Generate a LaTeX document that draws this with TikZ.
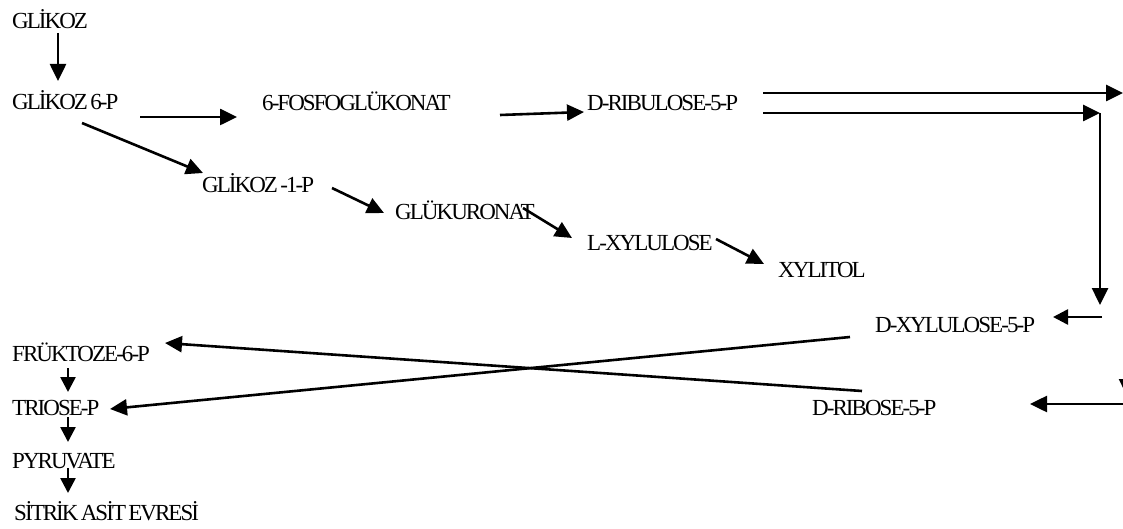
\documentclass[tikz,border=0pt]{standalone}
\usepackage{fontspec}
\setmainfont[LetterSpace=-8.5,WordSpace=0.6]{Liberation Serif}
\usetikzlibrary{arrows.meta}
\begin{document}
\begin{tikzpicture}[x=1pt,y=-1pt,
  lbl/.style={anchor=base west,inner sep=0pt,font=\fontsize{23}{25}\selectfont},
  arr/.style={line width=2.6pt,-{Triangle[length=17pt,width=16pt]}},
  sarr/.style={line width=2.6pt,-{Triangle[length=15pt,width=15pt]}}]
\useasboundingbox (0,0) rectangle (1123,529);
\clip (0,0) rectangle (1123,529);
% labels
\node[lbl] (glk)  at (12,29)  {GLİKOZ};
\node[lbl] (g6p)  at (12,110) {GLİKOZ 6-P};
\node[lbl] (fg)   at (262,111) {6-FOSFOGLÜKONAT};
\node[lbl] (drl)  at (587,111) {D-RIBULOSE-5-P};
\node[lbl] (g1p)  at (202,193) {GLİKOZ -1-P};
\node[lbl] (gku)  at (395,219) {GLÜKURONAT};
\node[lbl] (lx)   at (587,251) {L-XYLULOSE};
\node[lbl] (xyl)  at (778,277) {XYLITOL};
\node[lbl] (dx)   at (875,332) {D-XYLULOSE-5-P};
\node[lbl] (drb)  at (812,415) {D-RIBOSE-5-P};
\node[lbl] (f6p)  at (12,361) {FRÜKTOZE-6-P};
\node[lbl] (tri)  at (12,415) {TRIOSE-P};
\node[lbl] (pyr)  at (12,468) {PYRUVATE};
\node[lbl] (sit)  at (14,520) {SİTRİK ASİT EVRESİ};
% connector end points
\coordinate (a1s) at (58,33);   \coordinate (a1e) at (58,81);
\coordinate (a2s) at (140,117); \coordinate (a2e) at (237,117);
\coordinate (a3s) at (500,115); \coordinate (a3e) at (584,112);
\coordinate (a4s) at (763,93);  \coordinate (a4e) at (1123,93);
\coordinate (a5s) at (763,113); \coordinate (a5c) at (1100,113); \coordinate (a5e) at (1100,305);
\coordinate (a6s) at (1102,317); \coordinate (a6e) at (1053,317);
\coordinate (a7s) at (1127,100); \coordinate (a7e) at (1127,396);
\coordinate (a8s) at (1127,404); \coordinate (a8e) at (1030,404);
\coordinate (b1s) at (82,123);  \coordinate (b1e) at (203,173);
\coordinate (b2s) at (332,188); \coordinate (b2e) at (384,213);
\coordinate (b3s) at (523,208); \coordinate (b3e) at (572,238);
\coordinate (b4s) at (716,239); \coordinate (b4e) at (764,264);
\coordinate (x1s) at (862,391); \coordinate (x1e) at (165,343);
\coordinate (x2s) at (850,337); \coordinate (x2e) at (110,409);
\coordinate (d1s) at (68,368);  \coordinate (d1e) at (68,392);
\coordinate (d2s) at (68,417);  \coordinate (d2e) at (68,442);
\coordinate (d3s) at (68,468);  \coordinate (d3e) at (68,493);
% connectors
\draw[arr] (a1s) -- (a1e);
\draw[arr] (a2s) -- (a2e);
\draw[arr] (a3s) -- (a3e);
\draw[arr] (a4s) -- (a4e);
\draw[arr] (a5s) -- (a5c);
\draw[arr] (a5c) -- (a5e);
\draw[sarr] (a6s) -- (a6e);
\draw[arr] (a7s) -- (a7e);
\draw[arr] (a8s) -- (a8e);
\draw[arr] (b1s) -- (b1e);
\draw[arr] (b2s) -- (b2e);
\draw[arr] (b3s) -- (b3e);
\draw[arr] (b4s) -- (b4e);
\draw[arr] (x1s) -- (x1e);
\draw[arr] (x2s) -- (x2e);
\draw[sarr] (d1s) -- (d1e);
\draw[sarr] (d2s) -- (d2e);
\draw[sarr] (d3s) -- (d3e);
\end{tikzpicture}
\end{document}
